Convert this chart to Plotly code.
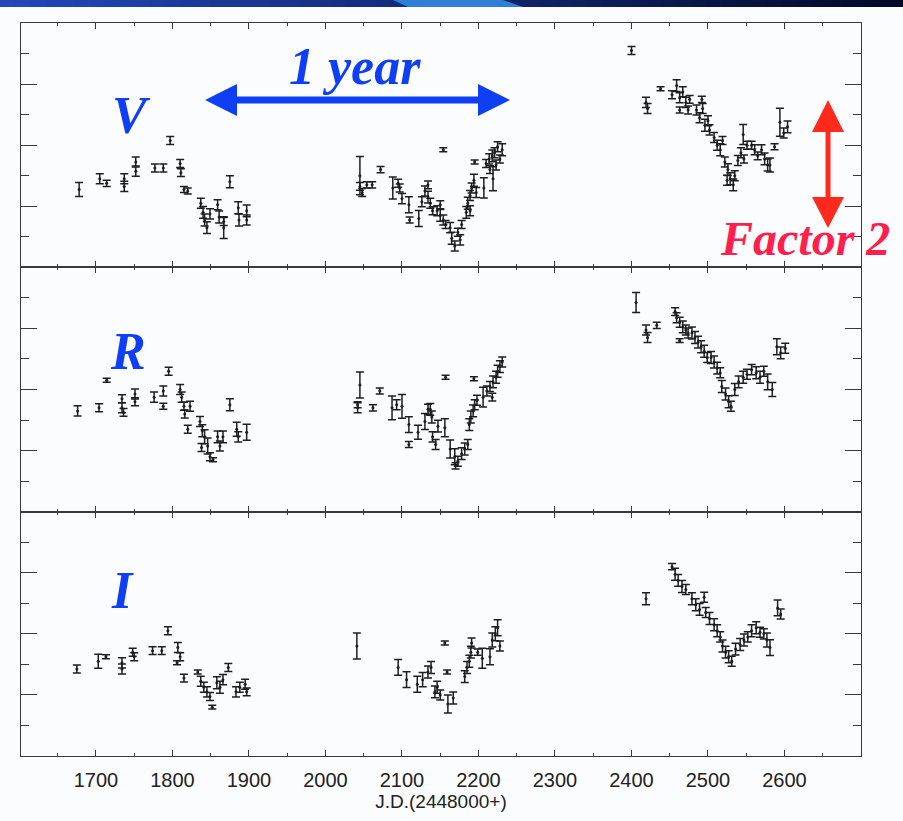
import plotly.graph_objects as go
from plotly.subplots import make_subplots

# ---------------- light-curve data (J.D. - 2448000, magnitude, 1-sigma error) ----------------
jd_v = [1678, 1705, 1714, 1737, 1737, 1752, 1752, 1777, 1788, 1797, 1810, 1811, 1815, 1820,
        1837, 1840, 1842, 1845, 1849, 1859, 1861, 1867, 1867, 1875, 1886, 1887, 1897, 1897,
        2045, 2045, 2048, 2054, 2061, 2072, 2088, 2095, 2097, 2100, 2109, 2110, 2122, 2126,
        2130, 2134, 2137, 2140, 2134, 2146, 2150, 2154, 2154, 2157, 2150, 2163, 2165, 2169,
        2173, 2178, 2176, 2184, 2186, 2189, 2191, 2194, 2189, 2197, 2195, 2207, 2219, 2210,
        2214, 2218, 2221, 2225, 2228, 2231, 2223, 2215,
        2400, 2419, 2421, 2438, 2453, 2459, 2463, 2467, 2471, 2474, 2476, 2463, 2485, 2489,
        2493, 2496, 2500, 2502, 2492, 2508, 2512, 2516, 2519, 2522, 2526, 2529, 2533, 2535,
        2525, 2539, 2543, 2547, 2551, 2546, 2557, 2561, 2565, 2570, 2574, 2578, 2581, 2587,
        2594, 2599, 2604]
mag_v = [18.09, 18.02, 18.05, 18.02, 18.07, 17.91, 17.97, 17.95, 17.95, 17.77, 17.92, 17.98, 18.09, 18.10,
         18.18, 18.24, 18.29, 18.34, 18.25, 18.19, 18.27, 18.30, 18.34, 18.04, 18.21, 18.29, 18.23, 18.29,
         18.00, 18.07, 18.11, 18.06, 18.06, 17.96, 18.08, 18.05, 18.08, 18.15, 18.19, 18.29, 18.28, 18.17,
         18.10, 18.14, 18.18, 18.23, 18.06, 18.23, 18.26, 17.83, 18.29, 18.32, 18.19, 18.34, 18.41, 18.46,
         18.37, 18.32, 18.42, 18.24, 18.18, 18.13, 18.08, 18.03, 18.23, 18.11, 17.91, 18.08, 18.02, 17.92,
         17.89, 17.87, 17.85, 17.81, 17.89, 17.83, 17.93, 17.96,
         17.18, 17.52, 17.56, 17.43, 17.47, 17.41, 17.49, 17.45, 17.52, 17.57, 17.50, 17.57, 17.57, 17.62,
         17.56, 17.67, 17.64, 17.70, 17.50, 17.75, 17.80, 17.83, 17.77, 17.91, 17.96, 18.02, 18.06, 18.00,
         18.03, 17.90, 17.85, 17.89, 17.80, 17.73, 17.80, 17.83, 17.87, 17.83, 17.89, 17.93, 17.93, 17.81,
         17.65, 17.72, 17.68]
err_v = [0.046, 0.033, 0.020, 0.033, 0.033, 0.033, 0.033, 0.026, 0.026, 0.026, 0.026, 0.026, 0.020, 0.020,
         0.033, 0.039, 0.039, 0.039, 0.033, 0.033, 0.039, 0.026, 0.072, 0.039, 0.039, 0.039, 0.039, 0.033,
         0.125, 0.026, 0.026, 0.020, 0.020, 0.020, 0.072, 0.026, 0.026, 0.033, 0.052, 0.020, 0.052, 0.033,
         0.033, 0.039, 0.033, 0.026, 0.026, 0.033, 0.039, 0.013, 0.033, 0.026, 0.026, 0.033, 0.039, 0.033,
         0.026, 0.026, 0.033, 0.039, 0.039, 0.033, 0.033, 0.039, 0.033, 0.033, 0.013, 0.066, 0.079, 0.026,
         0.033, 0.039, 0.033, 0.033, 0.026, 0.039, 0.033, 0.026,
         0.026, 0.033, 0.033, 0.013, 0.026, 0.039, 0.033, 0.033, 0.033, 0.026, 0.026, 0.020, 0.033, 0.033,
         0.033, 0.039, 0.033, 0.033, 0.020, 0.033, 0.033, 0.039, 0.026, 0.033, 0.039, 0.039, 0.039, 0.033,
         0.033, 0.033, 0.033, 0.026, 0.026, 0.066, 0.026, 0.033, 0.026, 0.033, 0.039, 0.039, 0.046, 0.020,
         0.092, 0.033, 0.039]

jd_r = [1676, 1704, 1714, 1734, 1734, 1736, 1751, 1751, 1776, 1788, 1788, 1795, 1810, 1812, 1815, 1816,
        1820, 1823, 1836, 1839, 1842, 1846, 1849, 1838, 1853, 1859, 1862, 1866, 1875, 1884, 1886, 1897,
        2045, 2042, 2042, 2062, 2071, 2087, 2093, 2100, 2109, 2109, 2121, 2130, 2134, 2137, 2139, 2140,
        2144, 2147, 2157, 2156, 2163, 2169, 2173, 2178, 2182, 2186, 2170, 2188, 2190, 2193, 2195, 2198,
        2194, 2206, 2211, 2215, 2219, 2223, 2225, 2228, 2231, 2218,
        2406, 2419, 2421, 2433, 2457, 2459, 2463, 2467, 2471, 2474, 2463, 2479, 2483, 2487, 2491, 2495,
        2499, 2504, 2508, 2512, 2516, 2518, 2523, 2527, 2530, 2535, 2540, 2546, 2551, 2557, 2563, 2568,
        2573, 2578, 2584, 2590, 2595, 2601]
mag_r = [17.54, 17.52, 17.34, 17.46, 17.52, 17.55, 17.43, 17.48, 17.45, 17.41, 17.51, 17.28, 17.40, 17.45, 17.51, 17.56,
         17.66, 17.51, 17.61, 17.67, 17.71, 17.77, 17.84, 17.78, 17.86, 17.71, 17.77, 17.71, 17.50, 17.66, 17.71, 17.68,
         17.37, 17.52, 17.50, 17.52, 17.41, 17.52, 17.50, 17.51, 17.63, 17.76, 17.68, 17.61, 17.53, 17.53, 17.58, 17.71,
         17.76, 17.64, 17.32, 17.65, 17.79, 17.84, 17.87, 17.82, 17.79, 17.76, 17.90, 17.63, 17.58, 17.54, 17.50, 17.47,
         17.33, 17.45, 17.41, 17.38, 17.35, 17.32, 17.28, 17.25, 17.22, 17.45,
         16.83, 17.01, 17.06, 16.98, 16.89, 16.93, 16.96, 16.99, 17.01, 17.03, 17.08, 17.03, 17.06, 17.09, 17.12, 17.15,
         17.19, 17.19, 17.22, 17.26, 17.29, 17.38, 17.43, 17.48, 17.51, 17.40, 17.35, 17.32, 17.30, 17.27, 17.29, 17.32,
         17.28, 17.35, 17.40, 17.12, 17.16, 17.13]
err_r = [0.033, 0.026, 0.013, 0.026, 0.033, 0.026, 0.033, 0.026, 0.033, 0.033, 0.020, 0.026, 0.033, 0.033, 0.026, 0.026,
         0.026, 0.033, 0.033, 0.039, 0.046, 0.052, 0.026, 0.026, 0.013, 0.039, 0.033, 0.039, 0.039, 0.046, 0.033, 0.052,
         0.085, 0.033, 0.020, 0.020, 0.020, 0.078, 0.033, 0.078, 0.052, 0.020, 0.046, 0.052, 0.033, 0.039, 0.039, 0.033,
         0.033, 0.039, 0.013, 0.059, 0.059, 0.052, 0.033, 0.039, 0.039, 0.033, 0.020, 0.039, 0.039, 0.039, 0.033, 0.033,
         0.013, 0.065, 0.033, 0.033, 0.039, 0.039, 0.039, 0.039, 0.033, 0.026,
         0.065, 0.033, 0.033, 0.020, 0.026, 0.033, 0.033, 0.039, 0.033, 0.033, 0.013, 0.039, 0.039, 0.039, 0.039, 0.039,
         0.033, 0.039, 0.039, 0.039, 0.033, 0.039, 0.039, 0.039, 0.033, 0.039, 0.039, 0.039, 0.033, 0.033, 0.039, 0.039,
         0.033, 0.052, 0.046, 0.052, 0.039, 0.033]

jd_i = [1675, 1703, 1713, 1734, 1734, 1748, 1750, 1774, 1786, 1794, 1807, 1810, 1806, 1815, 1833, 1837,
        1841, 1845, 1849, 1852, 1858, 1862, 1866, 1873, 1883, 1888, 1895, 1897,
        2041, 2095, 2106, 2120, 2127, 2134, 2138, 2143, 2146, 2150, 2156, 2159, 2160, 2167, 2182, 2185,
        2188, 2190, 2191, 2199, 2205, 2215, 2218, 2222, 2225, 2228,
        2419, 2453, 2457, 2461, 2466, 2471, 2479, 2484, 2489, 2495, 2497, 2502, 2508, 2512, 2516, 2519,
        2523, 2527, 2531, 2536, 2542, 2547, 2552, 2557, 2563, 2568, 2573, 2577, 2581, 2591, 2595]
mag_i = [17.23, 17.18, 17.15, 17.19, 17.23, 17.12, 17.15, 17.11, 17.11, 16.98, 17.09, 17.15, 17.19, 17.29, 17.25, 17.31,
         17.35, 17.38, 17.41, 17.48, 17.32, 17.35, 17.30, 17.22, 17.38, 17.35, 17.33, 17.38,
         17.08, 17.22, 17.30, 17.33, 17.30, 17.25, 17.22, 17.38, 17.35, 17.40, 17.06, 17.25, 17.46, 17.42, 17.28, 17.22,
         17.18, 17.12, 17.06, 17.12, 17.16, 17.15, 17.04, 17.00, 16.96, 17.08,
         16.77, 16.56, 16.61, 16.65, 16.69, 16.71, 16.77, 16.81, 16.84, 16.76, 16.86, 16.90, 16.94, 16.98, 17.02, 17.08,
         17.12, 17.15, 17.18, 17.10, 17.07, 17.04, 17.02, 16.98, 16.96, 16.99, 17.00, 17.04, 17.09, 16.83, 16.87]
err_i = [0.026, 0.046, 0.013, 0.033, 0.033, 0.026, 0.026, 0.026, 0.026, 0.026, 0.033, 0.026, 0.013, 0.026, 0.013, 0.033,
         0.033, 0.033, 0.026, 0.013, 0.039, 0.039, 0.033, 0.026, 0.033, 0.033, 0.033, 0.026,
         0.085, 0.052, 0.052, 0.052, 0.046, 0.039, 0.039, 0.039, 0.039, 0.033, 0.013, 0.013, 0.059, 0.039, 0.039, 0.039,
         0.039, 0.039, 0.033, 0.020, 0.065, 0.052, 0.046, 0.046, 0.052, 0.033,
         0.039, 0.020, 0.039, 0.039, 0.039, 0.033, 0.039, 0.039, 0.039, 0.033, 0.033, 0.039, 0.039, 0.039, 0.033, 0.039,
         0.039, 0.039, 0.033, 0.039, 0.039, 0.039, 0.033, 0.039, 0.039, 0.033, 0.033, 0.046, 0.052, 0.052, 0.033]

# axis settings: each panel spans 1.6 mag, majors every 0.4, minors every 0.2
band_names = ["V", "R", "I"]
mag_top = [17.0, 16.6, 16.2]
mag_span = 1.6
x_major = [1700, 1800, 1900, 2000, 2100, 2200, 2300, 2400, 2500, 2600]
x_minor = [1650, 1750, 1850, 1950, 2050, 2150, 2250, 2350, 2450, 2550, 2650]
x_range = [1602, 2700]

# ---------------- page geometry ----------------
W, H = 903, 821
L, R, T, B = 21, 42, 23, 65
PW, PH = W - L - R, H - T - B


def px(x):
    return (x - L) / PW


def py(y):
    return (H - B - y) / PH


INK = "#1e1e1e"
FRAME = "#3a3a3a"
BLUE = "#0f3ff5"
RED_ARROW = "#ff2a1c"
RED_TEXT = "#ff1f4d"
LABEL_FONT = "Liberation Sans"

fig = make_subplots(rows=3, cols=1, shared_xaxes=True, vertical_spacing=0)

series = [(jd_v, mag_v, err_v), (jd_r, mag_r, err_r), (jd_i, mag_i, err_i)]
for k, (xs, ys, es) in enumerate(series):
    fig.add_trace(go.Scatter(
        x=xs, y=ys, mode="markers", name=band_names[k], showlegend=False,
        marker=dict(size=3, color=INK),
        error_y=dict(type="data", array=es, visible=True, width=4, thickness=1.5, color=INK),
    ), row=k + 1, col=1)

    fig.update_yaxes(
        range=[mag_top[k] + mag_span, mag_top[k]],
        tick0=mag_top[k], dtick=0.4, ticks="inside", ticklen=16, tickwidth=1.3, tickcolor=FRAME,
        minor=dict(dtick=0.2, tick0=mag_top[k], ticks="inside", ticklen=8, tickwidth=1.3, tickcolor=FRAME),
        showticklabels=False, showgrid=False, zeroline=False,
        showline=True, linecolor=FRAME, linewidth=1.2, mirror="ticks",
        row=k + 1, col=1)

    fig.update_xaxes(
        range=x_range, tickmode="array", tickvals=x_major, ticktext=[str(v) for v in x_major],
        ticks="inside", ticklen=6, tickwidth=1.3, tickcolor=FRAME,
        minor=dict(tickmode="array", tickvals=x_minor, ticks="inside", ticklen=3, tickwidth=1.2, tickcolor=FRAME),
        showgrid=False, zeroline=False,
        showline=True, linecolor=FRAME, linewidth=1.2, mirror="ticks",
        showticklabels=(k == 2),
        tickfont=dict(family=LABEL_FONT, size=20, color="#222222"),
        ticklabelstandoff=6,
        row=k + 1, col=1)

fig.update_xaxes(title=dict(text="J.D.(2448000+)", standoff=2,
                            font=dict(family=LABEL_FONT, size=19, color="#222222")),
                 row=3, col=1)

shapes = []

# header strip: blue fading into navy, with a lighter slanted band
N = 60
c0, c1 = (34, 72, 186), (2, 8, 40)
for i in range(N):
    t = i / (N - 1)
    col = tuple(int(round(c0[j] + (c1[j] - c0[j]) * t)) for j in range(3))
    x0 = i * W / N
    x1 = (i + 1) * W / N + 1
    shapes.append(dict(type="rect", xref="paper", yref="paper",
                       x0=px(x0), x1=px(x1), y0=py(7), y1=py(0),
                       line=dict(width=0), fillcolor="rgb(%d,%d,%d)" % col, layer="above"))
shapes.append(dict(type="path", xref="paper", yref="paper",
                   path="M %f,%f L %f,%f L %f,%f L %f,%f Z" % (
                       px(393), py(0), px(503), py(0), px(523), py(7), px(408), py(7)),
                   line=dict(width=0), fillcolor="#2f7fd6", layer="above"))


def tri(p1, p2, p3, color):
    return dict(type="path", xref="paper", yref="paper",
                path="M %f,%f L %f,%f L %f,%f Z" % (px(p1[0]), py(p1[1]), px(p2[0]), py(p2[1]),
                                                    px(p3[0]), py(p3[1])),
                line=dict(width=0), fillcolor=color, layer="above")


# horizontal "1 year" double arrow
shapes.append(dict(type="line", xref="paper", yref="paper",
                   x0=px(230), x1=px(485), y0=py(100), y1=py(100),
                   line=dict(color=BLUE, width=7), layer="above"))
shapes.append(tri((205, 100), (237, 84), (237, 116), BLUE))
shapes.append(tri((510, 100), (478, 84), (478, 116), BLUE))

# vertical "Factor 2" double arrow
shapes.append(dict(type="line", xref="paper", yref="paper",
                   x0=px(828), x1=px(828), y0=py(128), y1=py(200),
                   line=dict(color=RED_ARROW, width=5), layer="above"))
shapes.append(tri((828, 100), (812, 132), (844, 132), RED_ARROW))
shapes.append(tri((828, 228), (812, 197), (844, 197), RED_ARROW))

fig.update_layout(shapes=shapes)

serif = "Liberation Serif"
annotations = [
    dict(text="1 year", x=px(355), y=py(67), color=BLUE, size=52),
    dict(text="V", x=px(131), y=py(115), color=BLUE, size=52),
    dict(text="R", x=px(128), y=py(352), color=BLUE, size=52),
    dict(text="I", x=px(122), y=py(590), color=BLUE, size=52),
    dict(text="Factor 2", x=px(805), y=py(238), color=RED_TEXT, size=48),
]
for a in annotations:
    fig.add_annotation(text=a["text"], x=a["x"], y=a["y"], xref="paper", yref="paper",
                       xanchor="center", yanchor="middle", showarrow=False,
                       font=dict(family=serif, size=a["size"], color=a["color"],
                                 weight="bold", style="italic"))

fig.update_layout(
    width=W, height=H,
    margin=dict(l=L, r=R, t=T, b=B, pad=0),
    paper_bgcolor="#fbfcfe",
    plot_bgcolor="#fbfcfe",
    showlegend=False,
)

fig.write_html("out.html")
